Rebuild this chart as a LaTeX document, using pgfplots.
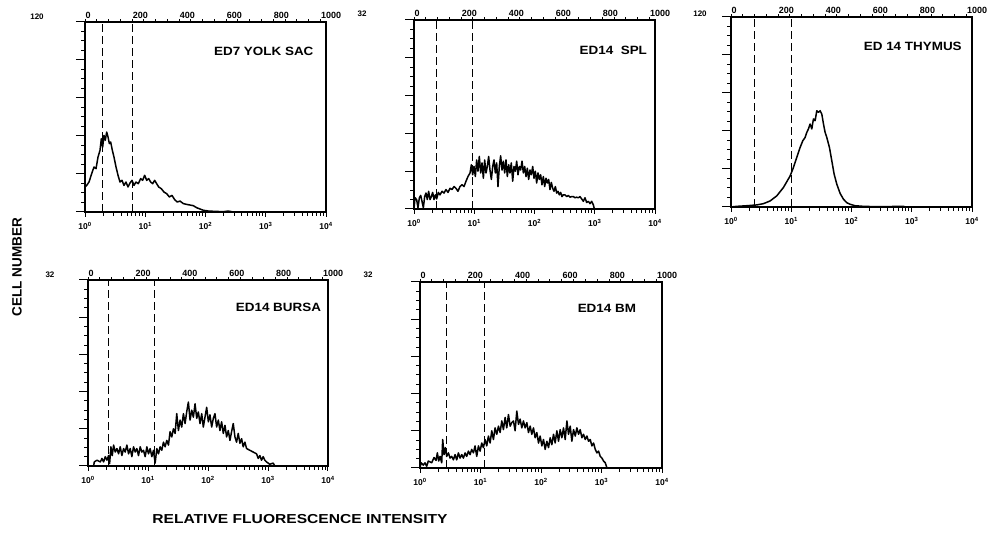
\documentclass[border=0pt]{standalone}
\usepackage{fontspec}
\setmainfont{Liberation Sans}
\usepackage{pgfplots}
\pgfplotsset{compat=1.18}

\pgfplotsset{
  facs/.style={
    scale only axis, anchor=north west, clip=false,
    xmin=0, xmax=4, ymin=0,
    axis line style={line width=1.5pt},
    tick align=outside, tick pos=left,
    tick style={black, line width=1pt},
    major tick length=5pt, minor tick length=4pt,
    xtick={0,1,2,3,4},
    xticklabels={10\textsuperscript{0},10\textsuperscript{1},10\textsuperscript{2},10\textsuperscript{3},10\textsuperscript{4}},
    minor xtick={0.301,0.477,0.602,0.699,0.778,0.845,0.903,0.954,
                 1.301,1.477,1.602,1.699,1.778,1.845,1.903,1.954,
                 2.301,2.477,2.602,2.699,2.778,2.845,2.903,2.954,
                 3.301,3.477,3.602,3.699,3.778,3.845,3.903,3.954},
    xticklabel style={font=\fontsize{8.5}{8.5}\selectfont\bfseries, yshift=-2pt},
    yticklabels={}, minor y tick num=3,
    extra y tick labels={},
    extra y tick style={major tick length=9pt},
  },
  chan/.style={
    scale only axis, anchor=north west,
    xmin=0, xmax=1024, ymin=0, ymax=1,
    axis x line*=top, axis y line=none,
    axis line style={line width=1.5pt},
    tick align=outside,
    tick style={black, line width=1pt},
    major tick length=3pt, minor tick length=2.5pt,
    xtick={0,200,400,600,800,1000}, minor x tick num=3,
    xticklabels={0,200,400,600,800,1000},
    xticklabel style={font=\fontsize{9}{9}\selectfont\bfseries, anchor=south west, inner sep=0pt, xshift=0.5pt, yshift=0.5pt},
  },
  hist/.style={black, line width=1.5pt, no marks, line join=round},
  gate/.style={black, line width=1.3pt, dash pattern=on 8pt off 4pt, no marks},
}
\tikzset{
  ttl/.style={font=\fontsize{12}{12}\selectfont\bfseries, anchor=east, xscale=1.12, inner sep=0pt},
  ymx/.style={font=\fontsize{8}{8}\selectfont\bfseries, inner sep=0pt},
}

\begin{document}
\begin{tikzpicture}
\useasboundingbox (0pt,0pt) rectangle (988pt,533pt);

% ED7 yolk sac
\begin{axis}[facs, at={(85pt,511pt)}, width=241pt, height=190pt, ymax=120,
  ytick={0,24,...,120}, extra y ticks={0,24,...,120}]
\addplot[hist] coordinates {(0,15.8)(0.028,16.8)(0.066,18.9)(0.111,24.2)(0.149,28.4)(0.183,27.4)(0.216,34.7)(0.249,38.9)(0.271,46.3)(0.293,41.0)(0.315,48.4)(0.337,45.3)(0.360,50.5)(0.382,47.4)(0.404,43.2)(0.426,44.2)(0.454,38.9)(0.481,34.7)(0.515,28.4)(0.548,23.2)(0.581,18.9)(0.614,20.0)(0.647,16.8)(0.680,18.9)(0.714,15.8)(0.747,18.3)(0.780,20.0)(0.813,16.8)(0.846,18.9)(0.885,17.9)(0.924,21.1)(0.957,20.0)(0.990,23.2)(1.024,20.0)(1.057,21.1)(1.090,18.9)(1.123,17.9)(1.156,20.0)(1.189,17.9)(1.223,15.8)(1.267,14.7)(1.311,12.6)(1.355,11.6)(1.400,9.5)(1.444,10.5)(1.488,7.8)(1.532,6.3)(1.577,6.9)(1.632,5.3)(1.687,4.8)(1.743,4.4)(1.798,4.0)(1.853,2.7)(1.909,1.9)(1.964,1.1)(2.047,0.6)(2.158,0.4)(2.296,0.2)(2.379,0.6)(2.462,0)(2.6,0)};
\addplot[gate] coordinates {(0.293,0)(0.293,120)};
\addplot[gate] coordinates {(0.786,0)(0.786,120)};
\node[ttl] at (rel axis cs:1,1) [xshift=-11pt, yshift=-29pt] {ED7 YOLK SAC};
\node[ymx] at (rel axis cs:0,1) [xshift=-48pt, yshift=5pt] {120};
\end{axis}
\begin{axis}[chan, at={(85pt,511pt)}, width=241pt, height=190pt]
\end{axis}

% ED14 spleen
\begin{axis}[facs, at={(414pt,513pt)}, width=241pt, height=189pt, ymax=32,
  ytick={0,6.4,12.8,19.2,25.6,32}, extra y ticks={0,6.4,12.8,19.2,25.6,32}]
\addplot[hist] coordinates {(0,0)(0.017,1.9)(0.044,1.6)(0.066,0.2)(0.089,1.9)(0.111,2.3)(0.133,1.3)(0.155,0.2)(0.177,2.1)(0.199,2.7)(0.221,1.6)(0.243,3.0)(0.266,1.6)(0.288,2.1)(0.310,2.8)(0.332,1.6)(0.354,2.4)(0.376,1.7)(0.404,2.8)(0.432,2.4)(0.465,3.0)(0.498,2.7)(0.531,3.3)(0.564,2.8)(0.598,3.5)(0.631,3.3)(0.664,3.8)(0.697,3.5)(0.730,3.0)(0.763,3.8)(0.797,4.1)(0.830,3.8)(0.863,4.7)(0.896,5.5)(0.930,6.1)(0.952,7.5)(0.974,5.8)(0.996,7.2)(1.018,5.5)(1.040,8.3)(1.062,6.4)(1.084,8.9)(1.107,6.1)(1.129,7.8)(1.151,5.2)(1.173,8.3)(1.195,6.1)(1.217,7.2)(1.239,8.9)(1.261,6.6)(1.284,5.0)(1.306,7.2)(1.328,8.3)(1.350,6.1)(1.372,7.8)(1.394,3.8)(1.416,7.2)(1.438,9.0)(1.461,6.6)(1.483,8.1)(1.505,6.1)(1.527,8.3)(1.549,5.5)(1.571,7.5)(1.593,6.1)(1.615,7.8)(1.638,4.7)(1.660,7.2)(1.682,6.4)(1.704,8.1)(1.726,5.8)(1.748,7.2)(1.770,6.6)(1.793,8.1)(1.815,6.1)(1.837,7.2)(1.859,5.5)(1.881,6.9)(1.903,5.0)(1.925,6.6)(1.947,5.8)(1.970,7.2)(1.992,5.2)(2.014,6.4)(2.036,4.4)(2.058,6.1)(2.080,5.0)(2.102,5.8)(2.124,4.1)(2.147,5.5)(2.169,3.8)(2.191,5.2)(2.213,4.4)(2.235,5.0)(2.257,3.3)(2.279,4.5)(2.302,3.5)(2.324,3.0)(2.346,3.8)(2.368,2.7)(2.390,3.0)(2.412,2.4)(2.434,2.8)(2.456,2.1)(2.479,2.4)(2.506,2.4)(2.534,2.1)(2.562,2.3)(2.589,2.0)(2.617,2.1)(2.645,2.1)(2.672,1.9)(2.700,2.0)(2.728,1.9)(2.755,2.1)(2.783,1.7)(2.811,1.3)(2.838,1.9)(2.866,1.1)(2.894,1.3)(2.922,0.9)(2.949,1.3)(2.977,0.7)(2.993,0)(3.1,0)};
\addplot[gate] coordinates {(0.376,0)(0.376,32)};
\addplot[gate] coordinates {(0.968,0)(0.968,32)};
\node[ttl] at (rel axis cs:1,1) [xshift=-7pt, yshift=-30pt] {ED14\ \ SPL};
\node[ymx] at (rel axis cs:0,1) [xshift=-52pt, yshift=6pt] {32};
\end{axis}
\begin{axis}[chan, at={(414pt,513pt)}, width=241pt, height=189pt]
\end{axis}

% ED14 thymus
\begin{axis}[facs, at={(731pt,516pt)}, width=241pt, height=190pt, ymax=120,
  ytick={0,24,...,120}, extra y ticks={0,24,...,120}]
\addplot[hist] coordinates {(0,0)(0.094,0.4)(0.260,0.8)(0.427,1.3)(0.537,2.1)(0.648,3.8)(0.759,7.0)(0.870,12.3)(0.981,19.6)(1.036,24.9)(1.091,31.3)(1.147,37.6)(1.191,41.8)(1.230,43.9)(1.258,47.1)(1.285,49.3)(1.313,52.4)(1.341,49.3)(1.368,55.6)(1.396,54.5)(1.424,60.8)(1.452,59.8)(1.479,60.8)(1.507,58.7)(1.535,52.4)(1.562,47.1)(1.590,43.9)(1.634,37.6)(1.673,29.2)(1.712,20.7)(1.756,14.4)(1.812,8.5)(1.867,4.9)(1.922,2.7)(1.978,1.7)(2.061,0.8)(2.199,0.4)(2.421,0.2)(2.864,0.4)(2.892,0)(3.0,0)};
\addplot[gate] coordinates {(0.395,0)(0.395,120)};
\addplot[gate] coordinates {(1.008,0)(1.008,120)};
\node[ttl] at (rel axis cs:1,1) [xshift=-9pt, yshift=-29pt] {ED 14 THYMUS};
\node[ymx] at (rel axis cs:0,1) [xshift=-31pt, yshift=3pt] {120};
\end{axis}
\begin{axis}[chan, at={(731pt,516pt)}, width=241pt, height=190pt]
\end{axis}

% ED14 bursa
\begin{axis}[facs, at={(88pt,253pt)}, width=240pt, height=186pt, ymax=32,
  ytick={0,6.4,12.8,19.2,25.6,32}, extra y ticks={0,6.4,12.8,19.2,25.6,32}]
\addplot[hist] coordinates {(0,0)(0.094,0)(0.105,0.7)(0.150,1.0)(0.205,0.7)(0.233,1.3)(0.260,0.7)(0.288,1.6)(0.316,1.0)(0.343,1.8)(0.360,0.4)(0.382,3.3)(0.404,1.8)(0.427,3.6)(0.454,2.4)(0.482,3.0)(0.510,2.1)(0.537,3.3)(0.565,1.8)(0.593,3.0)(0.620,2.4)(0.648,3.6)(0.676,2.1)(0.704,3.0)(0.731,1.6)(0.759,3.3)(0.787,2.4)(0.814,3.0)(0.842,1.8)(0.870,3.3)(0.898,2.4)(0.925,2.7)(0.953,1.6)(0.981,3.3)(1.008,2.1)(1.036,3.0)(1.064,1.6)(1.091,2.7)(1.119,0.5)(1.147,3.0)(1.175,2.1)(1.202,3.3)(1.230,2.7)(1.258,4.1)(1.285,3.3)(1.313,4.4)(1.341,3.6)(1.368,5.9)(1.396,5.0)(1.424,6.4)(1.452,5.6)(1.479,9.0)(1.507,6.1)(1.535,7.9)(1.562,6.7)(1.590,9.0)(1.618,7.3)(1.645,9.3)(1.673,11.0)(1.701,7.9)(1.729,9.6)(1.756,8.4)(1.784,10.7)(1.812,8.2)(1.839,9.3)(1.867,7.3)(1.895,9.0)(1.922,6.7)(1.950,8.4)(1.978,10.1)(2.006,7.6)(2.033,8.8)(2.061,6.7)(2.089,8.2)(2.116,9.0)(2.144,6.7)(2.172,7.9)(2.199,6.1)(2.227,7.6)(2.255,5.6)(2.283,7.0)(2.310,5.0)(2.338,6.1)(2.366,4.4)(2.393,5.9)(2.421,7.3)(2.449,5.0)(2.476,4.1)(2.504,5.6)(2.532,3.9)(2.560,4.7)(2.587,3.3)(2.615,4.1)(2.643,3.0)(2.698,2.7)(2.753,2.4)(2.809,2.1)(2.837,1.3)(2.864,1.8)(2.892,1.0)(2.920,1.6)(2.947,1.0)(2.975,0.7)(3.030,0.3)(3.086,0.5)(3.114,0)(3.2,0)};
\addplot[gate] coordinates {(0.343,0)(0.343,32)};
\addplot[gate] coordinates {(1.108,0)(1.108,32)};
\node[ttl] at (rel axis cs:1,1) [xshift=-6pt, yshift=-27pt] {ED14 BURSA};
\node[ymx] at (rel axis cs:0,1) [xshift=-38pt, yshift=5pt] {32};
\end{axis}
\begin{axis}[chan, at={(88pt,253pt)}, width=240pt, height=186pt]
\end{axis}

% ED14 bone marrow
\begin{axis}[facs, at={(420pt,251pt)}, width=242pt, height=186pt, ymax=32,
  ytick={0,6.4,12.8,19.2,25.6,32}, extra y ticks={0,6.4,12.8,19.2,25.6,32}]
\addplot[hist] coordinates {(0,0)(0.017,0.9)(0.055,0.5)(0.083,0.9)(0.110,0.3)(0.138,1.2)(0.193,0.9)(0.232,1.8)(0.265,1.3)(0.287,2.6)(0.309,1.2)(0.331,2.0)(0.359,0.9)(0.375,4.9)(0.397,2.3)(0.419,3.5)(0.441,2.0)(0.469,2.6)(0.497,1.7)(0.524,2.0)(0.552,1.4)(0.579,2.3)(0.607,1.4)(0.634,2.6)(0.662,1.7)(0.690,2.3)(0.717,1.7)(0.745,2.6)(0.772,2.0)(0.800,2.9)(0.828,2.3)(0.855,3.2)(0.883,2.6)(0.910,3.8)(0.938,2.0)(0.966,3.8)(0.993,2.9)(1.021,4.3)(1.048,3.5)(1.076,4.9)(1.103,3.8)(1.131,5.5)(1.159,4.3)(1.186,6.4)(1.214,4.9)(1.241,6.9)(1.269,5.8)(1.297,7.2)(1.324,6.1)(1.352,8.1)(1.379,6.6)(1.407,8.7)(1.434,6.9)(1.462,9.2)(1.490,7.2)(1.517,7.8)(1.545,8.1)(1.572,6.4)(1.600,9.8)(1.628,7.5)(1.655,8.4)(1.683,6.9)(1.710,8.1)(1.738,6.9)(1.766,7.8)(1.793,6.1)(1.821,7.2)(1.848,5.8)(1.876,6.9)(1.903,5.2)(1.931,6.1)(1.959,4.3)(1.986,5.5)(2.014,3.8)(2.041,4.9)(2.069,3.2)(2.097,4.6)(2.124,3.5)(2.152,5.2)(2.179,4.0)(2.207,5.8)(2.234,4.3)(2.262,6.4)(2.290,4.6)(2.317,6.6)(2.345,5.2)(2.372,6.9)(2.400,4.9)(2.428,8.1)(2.455,5.8)(2.483,7.2)(2.510,4.6)(2.538,6.6)(2.566,5.5)(2.593,6.9)(2.621,5.8)(2.648,6.6)(2.676,5.2)(2.703,5.8)(2.731,4.9)(2.759,5.5)(2.786,4.6)(2.814,4.9)(2.841,3.8)(2.869,4.3)(2.897,3.2)(2.924,2.6)(2.952,2.9)(2.979,2.0)(3.007,1.7)(3.034,1.2)(3.062,0.9)(3.090,0)(3.2,0)};
\addplot[gate] coordinates {(0.441,0)(0.441,32)};
\addplot[gate] coordinates {(1.065,0)(1.065,32)};
\node[ttl] at (rel axis cs:1,1) [xshift=-23pt, yshift=-26pt] {ED14 BM};
\node[ymx] at (rel axis cs:0,1) [xshift=-52pt, yshift=7pt] {32};
\end{axis}
\begin{axis}[chan, at={(420pt,251pt)}, width=242pt, height=186pt]
\end{axis}

\node[rotate=90, font=\fontsize{13.5}{13.5}\selectfont\bfseries] at (17pt,266pt) {CELL NUMBER};
\node[font=\fontsize{13}{13}\selectfont\bfseries, xscale=1.2] at (300pt,14pt) {RELATIVE FLUORESCENCE INTENSITY};
\end{tikzpicture}
\end{document}
